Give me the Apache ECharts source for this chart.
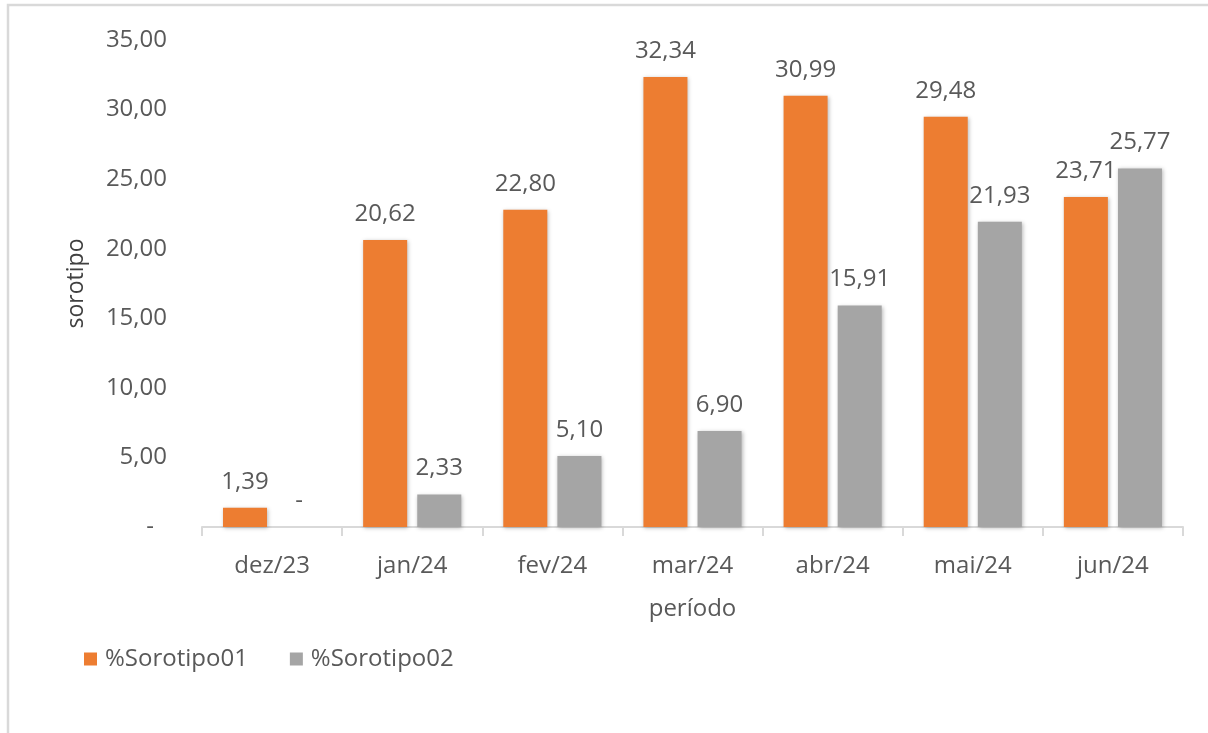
<!DOCTYPE html>
<html>
<head>
<meta charset="utf-8">
<script src="https://cdn.jsdelivr.net/npm/echarts@6/dist/echarts.min.js"></script>
<style>
  html, body { margin: 0; padding: 0; background: #ffffff; }
  #chart { width: 1208px; height: 733px; }
</style>
</head>
<body>
<div id="chart"></div>
<script>
// Monthly serotype shares (%)
const periods = ['dez/23', 'jan/24', 'fev/24', 'mar/24', 'abr/24', 'mai/24', 'jun/24'];
const sorotipo01 = [1.39, 20.62, 22.80, 32.34, 30.99, 29.48, 23.71];
const sorotipo02 = [0, 2.33, 5.10, 6.90, 15.91, 21.93, 25.77];
const seriesNames = ['%Sorotipo01', '%Sorotipo02'];

const FONT = 'Open Sans';
const FS = 24;
const TXT = '#595959';

// Accounting-style number: comma decimal, zero drawn as a dash
function fmt(v) {
  if (v === 0) return '{z|-}';
  return v.toFixed(2).replace('.', ',');
}

const chart = echarts.init(document.getElementById('chart'), null, { renderer: 'canvas' });

const barStyle = (color) => ({
  color: color,
  shadowBlur: 4,
  shadowColor: 'rgba(0,0,0,0.28)',
  shadowOffsetX: 1,
  shadowOffsetY: 1
});

const labelStyle = {
  show: true,
  position: 'top',
  distance: 14,
  fontFamily: FONT,
  fontSize: FS,
  color: TXT,
  formatter: (p) => fmt(p.value),
  rich: { z: { fontFamily: FONT, fontSize: FS, color: TXT } }
};

chart.setOption({
  animation: false,
  backgroundColor: '#ffffff',
  graphic: [{
    type: 'rect',
    shape: { x: 8, y: 5, width: 1400, height: 900 },
    style: { fill: 'none', stroke: '#d9d9d9', lineWidth: 2.5 },
    silent: true,
    z: -10
  }],
  grid: { left: 202, right: 25, top: 40, bottom: 206 },
  legend: {
    left: 79,
    top: 642,
    itemWidth: 13,
    itemHeight: 13,
    itemGap: 42,
    icon: 'rect',
    data: seriesNames,
    textStyle: { fontFamily: FONT, fontSize: FS, color: TXT, padding: [0, 0, 0, 3] }
  },
  xAxis: {
    type: 'category',
    data: periods,
    name: 'período',
    nameLocation: 'middle',
    nameGap: 70,
    nameTextStyle: { fontFamily: FONT, fontSize: FS, color: TXT },
    axisLine: { show: true, lineStyle: { color: '#d9d9d9', width: 2 } },
    axisTick: { show: true, length: 9, lineStyle: { color: '#d9d9d9', width: 2 } },
    axisLabel: { fontFamily: FONT, fontSize: FS, color: TXT, margin: 27 }
  },
  yAxis: {
    type: 'value',
    min: 0,
    max: 35,
    interval: 5,
    name: 'sorotipo',
    nameLocation: 'middle',
    nameGap: 114,
    nameTextStyle: { fontFamily: FONT, fontSize: 23, color: '#404040' },
    axisLine: { show: false },
    axisTick: { show: false },
    splitLine: { show: false },
    axisLabel: {
      fontFamily: FONT,
      fontSize: FS,
      color: TXT,
      margin: 35,
      formatter: (v) => fmt(v),
      rich: { z: { fontFamily: FONT, fontSize: FS, color: TXT, padding: [0, 13, 0, 0] } }
    }
  },
  series: [
    {
      name: seriesNames[0],
      type: 'bar',
      data: sorotipo01,
      barWidth: 44,
      barGap: '23%',
      itemStyle: barStyle('#ED7D31'),
      label: labelStyle
    },
    {
      name: seriesNames[1],
      type: 'bar',
      data: sorotipo02,
      barWidth: 44,
      barGap: '23%',
      itemStyle: barStyle('#A5A5A5'),
      label: labelStyle
    }
  ]
});
</script>
</body>
</html>
